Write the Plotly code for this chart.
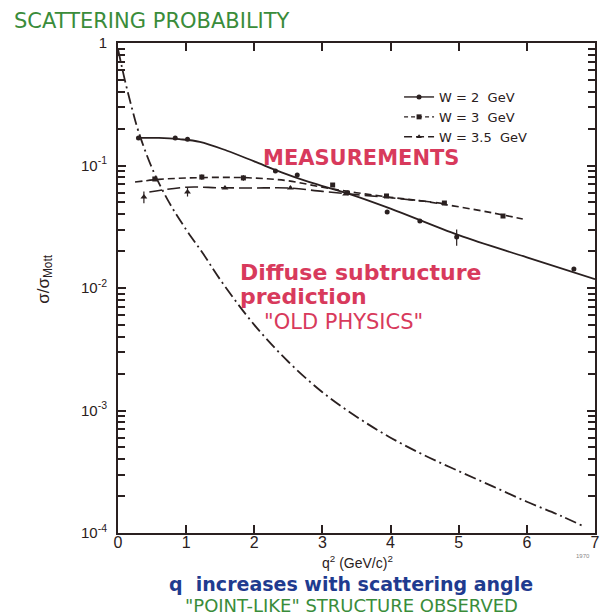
import plotly.graph_objects as go

# ---------------- data ----------------
# "old physics" diffuse-structure prediction (dash-dot)
q_pred = [0, 0.1, 0.2, 0.3, 0.5, 0.75, 1.0, 1.25, 1.5, 2.0, 2.5, 3.0, 3.5, 4.0, 4.5, 5.0, 5.5, 6.0, 6.5, 6.85]
s_pred = [0.89, 0.50, 0.30, 0.19, 0.095, 0.050, 0.030, 0.019, 0.0117, 0.0050, 0.0025, 0.00141,
          0.00089, 0.00060, 0.00043, 0.00032, 0.00024, 0.00018, 0.000138, 0.000112]

# W = 2 GeV
q_w2_fit = [0.28, 0.6, 0.9, 1.2, 1.6, 2.0, 2.4, 2.8, 3.4, 4.0, 5.0, 6.0, 7.0]
s_w2_fit = [0.168, 0.168, 0.164, 0.156, 0.132, 0.108, 0.088, 0.0735, 0.0585, 0.0445, 0.0270, 0.0178, 0.0118]
q_w2 = [0.30, 0.84, 1.02, 2.31, 2.63, 3.37, 3.95, 4.43, 4.97, 6.69]
s_w2 = [0.168, 0.168, 0.164, 0.090, 0.0836, 0.060, 0.0417, 0.0352, 0.0261, 0.0143]
e_w2 = [0, 0, 0, 0, 0, 0, 0, 0, 0.004, 0]

# W = 3 GeV
q_w3_fit = [0.25, 0.6, 1.0, 1.5, 2.0, 2.5, 3.0, 3.5, 4.0, 4.5, 5.0, 5.5, 5.94]
s_w3_fit = [0.0733, 0.077, 0.079, 0.080, 0.079, 0.075, 0.0665, 0.060, 0.055, 0.051, 0.046, 0.041, 0.0366]
q_w3 = [0.54, 1.23, 1.84, 3.15, 3.94, 4.79, 5.65]
s_w3 = [0.0776, 0.0805, 0.0792, 0.0693, 0.0564, 0.0494, 0.0387]
e_w3 = [0, 0.004, 0.004, 0, 0, 0, 0]

# W = 3.5 GeV
q_w35_fit = [0.46, 1.0, 1.5, 2.0, 2.5, 3.0, 3.5, 4.0, 4.5, 4.8]
s_w35_fit = [0.0608, 0.0665, 0.0658, 0.0655, 0.0655, 0.0615, 0.0578, 0.0545, 0.051, 0.0488]
q_w35 = [0.38, 1.02, 1.57, 2.53, 3.34]
s_w35 = [0.0553, 0.0608, 0.0655, 0.0655, 0.0585]
e_w35 = [0.006, 0.005, 0, 0, 0]

legend_names = ["W = 2  GeV", "W = 3  GeV", "W = 3.5  GeV"]
x_ticks = [0, 1, 2, 3, 4, 5, 6, 7]
y_major = [1e-4, 1e-3, 1e-2, 1e-1, 1]
y_major_text = ["10<sup>-4</sup>", "10<sup>-3</sup>", "10<sup>-2</sup>", "10<sup>-1</sup>", "1"]

# ---------------- style ----------------
INK = "#2a2020"
RED = "#d83a5c"
BLUE = "#1f3b8f"
GREEN = "#3a8c3a"
FONT = "Liberation Sans, Arial, sans-serif"
WIDE = "DejaVu Sans, Verdana, sans-serif"

fig = go.Figure()

# prediction curve lives on the overlaid (minor-tick) axis, same scale as the main one
fig.add_trace(go.Scatter(x=q_pred, y=s_pred, mode="lines", yaxis="y2",
                         line=dict(color=INK, width=1.8, dash="12px,4px,2px,4px", shape="spline"),
                         showlegend=False, hoverinfo="skip"))

fig.add_trace(go.Scatter(x=q_w2_fit, y=s_w2_fit, mode="lines", line=dict(color=INK, width=1.8, shape="spline"), showlegend=False))
fig.add_trace(go.Scatter(x=q_w3_fit, y=s_w3_fit, mode="lines", line=dict(color=INK, width=1.6, dash="7px,4px", shape="spline"), showlegend=False))
fig.add_trace(go.Scatter(x=q_w35_fit, y=s_w35_fit, mode="lines", line=dict(color=INK, width=1.6, dash="13px,5px", shape="spline"), showlegend=False))

fig.add_trace(go.Scatter(x=q_w2, y=s_w2, mode="markers", marker=dict(symbol="circle", size=5, color=INK),
                         error_y=dict(type="data", array=e_w2, color=INK, thickness=1.2, width=0), showlegend=False))
fig.add_trace(go.Scatter(x=q_w3, y=s_w3, mode="markers", marker=dict(symbol="square", size=5, color=INK),
                         error_y=dict(type="data", array=e_w3, color=INK, thickness=1.2, width=0), showlegend=False))
fig.add_trace(go.Scatter(x=q_w35, y=s_w35, mode="markers", marker=dict(symbol="triangle-up", size=6, color=INK),
                         error_y=dict(type="data", array=e_w35, color=INK, thickness=1.2, width=0), showlegend=False))

# legend-only entries
leg_styles = [("circle", "solid"), ("square", "4px,3px"), ("triangle-up", "8px,4px")]
for name, (sym, dash) in zip(legend_names, leg_styles):
    fig.add_trace(go.Scatter(x=[None], y=[None], mode="lines+markers", name=name,
                             marker=dict(symbol=sym, size=5, color=INK),
                             line=dict(color=INK, width=1.4, dash=dash)))

axis_common = dict(showline=True, linecolor=INK, linewidth=2, mirror="ticks", ticks="inside",
                   tickcolor=INK, tickwidth=1.5, showgrid=False, zeroline=False)

minor_vals = [m * 10 ** d for d in range(-4, 0) for m in range(2, 10)]
fig.update_layout(
    xaxis=dict(range=[0, 7], tickvals=x_ticks, ticklen=8, tickfont=dict(family=FONT, size=16, color=INK),
               ticklabelstandoff=-6, **axis_common),
    yaxis=dict(type="log", range=[-4, 0], tickvals=y_major, ticktext=y_major_text, ticklen=8,
               tickfont=dict(family=FONT, size=15, color=INK), ticklabelstandoff=6, **axis_common),
    yaxis2=dict(type="log", range=[-4, 0], overlaying="y", side="left", tickvals=minor_vals, ticklen=7,
                showticklabels=False, **axis_common),
)

# page body has an 8px offset; positions below are in window pixels
OFF = 8
def px_x(px):
    return (px - 118) / 482.0

def px_y(py):
    return (533 - py) / 490.0

annots = [
    dict(text="SCATTERING PROBABILITY", x=px_x(12), y=px_y(21), xanchor="left", font=dict(family=WIDE, size=21, color=GREEN)),
    dict(text="MEASUREMENTS", x=px_x(264), y=px_y(158), xanchor="left", font=dict(family=WIDE, size=21, color=RED, weight="bold")),
    dict(text="Diffuse subtructure", x=px_x(240), y=px_y(272), xanchor="left", font=dict(family=WIDE, size=22, color=RED, weight="bold")),
    dict(text="prediction", x=px_x(240), y=px_y(296), xanchor="left", font=dict(family=WIDE, size=22, color=RED, weight="bold")),
    dict(text="\"OLD PHYSICS\"", x=px_x(265), y=px_y(322), xanchor="left", font=dict(family=WIDE, size=21, color=RED)),
    dict(text="q<sup>2</sup> (GeV/c)<sup>2</sup>", x=px_x(360), y=px_y(562), xanchor="center", font=dict(family=FONT, size=14, color=INK)),
    dict(text="q  increases with scattering angle", x=px_x(353), y=px_y(584), xanchor="center", font=dict(family=WIDE, size=19, color=BLUE, weight="bold")),
    dict(text="\"POINT-LIKE\" STRUCTURE OBSERVED", x=px_x(354), y=px_y(605), xanchor="center", font=dict(family=WIDE, size=18, color=GREEN)),
    dict(text="σ/σ<sub>Mott</sub>", x=px_x(44), y=px_y(279), xanchor="center", textangle=-90, font=dict(family=FONT, size=17, color=INK)),
    dict(text="1970", x=px_x(588), y=px_y(556), xanchor="center", font=dict(family=FONT, size=6, color="#888")),
]
for a in annots:
    fig.add_annotation(xref="paper", yref="paper", yanchor="middle", showarrow=False, borderpad=0, **a)

fig.update_layout(
    width=609 - OFF, height=615 - OFF,
    margin=dict(l=118 - OFF, r=9, t=43 - OFF, b=82),
    paper_bgcolor="white", plot_bgcolor="white",
    legend=dict(x=px_x(402), y=px_y(82), xanchor="left", yanchor="top", bgcolor="rgba(0,0,0,0)",
                font=dict(family=WIDE, size=13, color=INK), tracegroupgap=0, itemwidth=30),
)

fig.write_html("out.html")
